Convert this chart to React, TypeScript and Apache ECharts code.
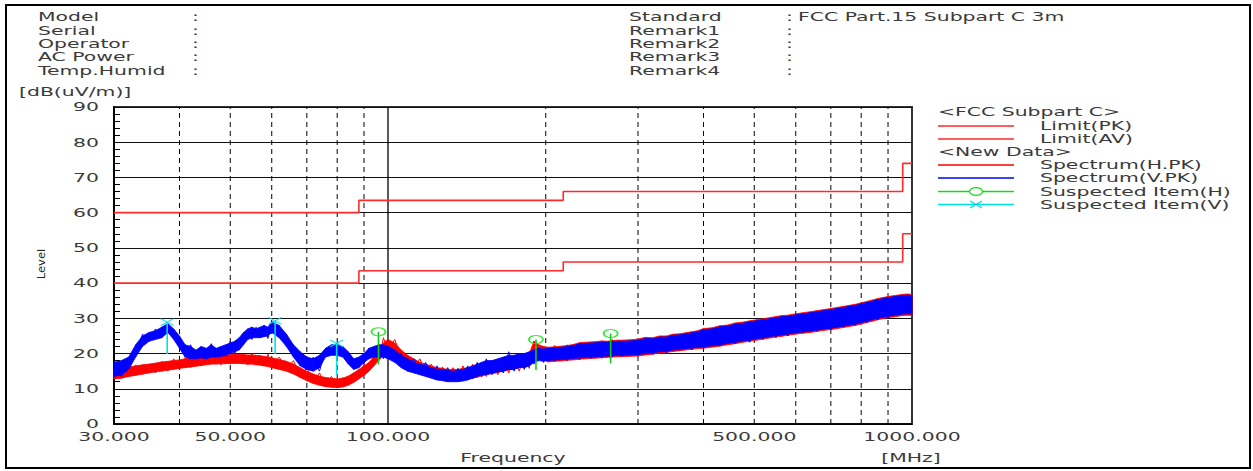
import React, { useEffect, useRef } from 'react';
import * as echarts from 'echarts';

// ---- data ----
const FREQ = [
  30, 31, 32, 33, 34, 35, 36, 37, 38, 39, 40, 41, 42, 43, 44, 45, 46, 47, 48, 49,
  50, 51, 52, 53, 54, 55, 56, 57, 58, 59, 60, 62, 64, 66, 68, 70, 72, 74, 76, 78,
  80, 82, 84, 86, 88, 90, 92, 94, 96, 98, 100, 103, 106, 109, 112, 115, 118, 121, 124, 127,
  130, 133, 136, 139, 142, 145, 148, 151, 154, 158, 162, 166, 170, 174, 178, 182, 186, 190, 194, 198,
  202, 208, 214, 220, 226, 232, 238, 244, 250, 256, 262, 268, 274, 280, 290, 300, 310, 320, 330, 340,
  350, 360, 370, 380, 390, 400, 415, 430, 445, 460, 475, 490, 505, 520, 535, 550, 565, 580, 600, 620,
  640, 660, 680, 700, 720, 740, 760, 780, 800, 820, 840, 860, 880, 900, 920, 940, 960, 980, 1000,
];

// peak spikes (zig-zag of highest / lowest readings)
const SPEC_H = [
  13.0, 16.0, 13.5, 16.8, 14.0, 17.0, 14.5, 17.8, 15.0, 18.5, 15.5, 18.8, 16.0, 19.5, 16.5, 19.0, 17.0, 20.0, 16.8, 19.5,
  17.0, 20.3, 17.2, 19.8, 16.8, 20.0, 17.0, 19.5, 16.5, 19.8, 16.5, 19.0, 15.5, 18.0, 13.5, 16.0, 12.0, 14.5, 11.2, 13.5,
  10.5, 13.2, 11.5, 14.5, 13.5, 17.0, 15.5, 19.5, 18.0, 24.5, 21.0, 24.0, 19.0, 19.0, 15.5, 18.5, 15.0, 17.0, 13.0, 16.2,
  12.5, 16.0, 12.8, 16.5, 13.0, 17.0, 13.2, 17.5, 13.5, 18.0, 14.0, 18.5, 14.5, 19.0, 15.0, 19.5, 15.8, 23.5, 19.5, 22.0,
  18.5, 22.3, 18.8, 22.5, 19.0, 22.8, 19.0, 23.2, 19.2, 22.8, 19.5, 24.0, 19.6, 23.2, 19.8, 23.8, 20.0, 24.0, 20.4, 24.5,
  21.0, 25.0, 21.2, 25.5, 21.6, 25.8, 22.3, 26.5, 22.8, 27.0, 23.3, 27.5, 24.0, 28.2, 24.6, 28.8, 25.0, 29.3, 25.6, 30.0,
  26.2, 30.6, 26.8, 31.2, 27.3, 31.8, 28.0, 32.5, 28.6, 33.2, 29.2, 34.0, 29.8, 34.8, 30.3, 35.5, 31.0, 36.0, 32.0,
];

const SPEC_V = [
  16.5, 13.5, 18.5, 19.5, 25.5, 23.5, 27.0, 24.5, 28.5, 25.0, 24.5, 19.5, 22.5, 18.5, 21.5, 18.8, 22.8, 19.0, 21.8, 19.2,
  23.5, 20.0, 24.0, 22.5, 27.0, 24.0, 27.5, 24.5, 27.8, 24.3, 29.0, 26.5, 25.5, 20.5, 20.0, 15.5, 19.0, 15.0, 21.0, 20.0,
  23.0, 20.0, 20.0, 16.0, 19.0, 17.0, 21.5, 19.0, 22.5, 18.5, 22.0, 18.5, 20.0, 15.0, 18.5, 14.5, 17.5, 13.5, 16.5, 12.5,
  16.0, 12.0, 15.8, 12.2, 16.5, 12.8, 17.5, 13.5, 18.5, 14.0, 18.0, 14.5, 20.5, 15.0, 19.5, 15.5, 20.0, 17.0, 21.5, 17.5,
  21.0, 17.8, 21.5, 18.0, 21.8, 18.2, 22.3, 18.6, 22.0, 18.8, 23.0, 19.0, 22.5, 19.2, 23.0, 19.5, 23.5, 19.8, 23.8, 20.2,
  24.5, 20.8, 25.0, 21.0, 25.2, 21.5, 26.0, 22.2, 26.5, 22.8, 27.0, 23.2, 27.8, 24.0, 28.5, 24.5, 29.0, 25.0, 29.5, 25.8,
  30.2, 26.3, 30.8, 26.8, 31.2, 27.5, 32.0, 28.0, 32.8, 28.8, 33.5, 29.5, 34.3, 30.0, 35.0, 30.8, 35.8, 31.2, 34.5,
];

// dense core band of each trace (upper / lower edge)
const H_UPPER = [
  15.5, 15.8, 16.2, 16.5, 16.8, 17.0, 17.3, 17.6, 17.8, 18.0, 18.2, 18.5, 18.8, 19.0, 19.2, 19.3, 19.5, 19.6, 19.6, 19.7,
  19.7, 19.8, 19.8, 19.7, 19.6, 19.6, 19.5, 19.4, 19.2, 19.0, 18.8, 18.3, 17.8, 17.0, 16.0, 15.0, 14.2, 13.6, 13.2, 13.0,
  12.8, 13.0, 13.6, 14.5, 15.5, 16.5, 17.5, 19.0, 21.0, 23.0, 24.0, 23.0, 21.0, 19.5, 18.5, 17.5, 17.0, 16.5, 16.0, 15.8,
  15.5, 15.5, 15.5, 15.8, 16.0, 16.3, 16.6, 17.0, 17.3, 17.6, 18.0, 18.3, 18.6, 19.0, 19.3, 19.6, 20.0, 23.5, 22.5, 22.0,
  21.8, 21.9, 22.1, 22.3, 22.6, 23.1, 23.2, 23.3, 23.4, 23.6, 23.5, 23.7, 23.8, 23.8, 23.9, 24.1, 24.6, 24.5, 25.0, 25.0,
  25.5, 25.6, 25.9, 26.2, 26.5, 27.1, 27.3, 27.9, 28.1, 28.7, 28.9, 29.3, 29.6, 29.9, 30.2, 30.5, 30.8, 30.9, 31.3, 31.6,
  31.9, 32.2, 32.5, 32.8, 33.1, 33.4, 33.7, 34.0, 34.4, 34.8, 35.2, 35.6, 35.9, 36.2, 36.4, 36.6, 36.8, 36.9, 36.8,
];
const H_LOWER = [
  12.8, 13.0, 13.5, 13.8, 14.2, 14.5, 14.8, 15.0, 15.3, 15.5, 15.8, 16.0, 16.2, 16.4, 16.6, 16.8, 17.0, 17.0, 17.1, 17.1,
  17.2, 17.2, 17.2, 17.1, 17.0, 17.0, 16.8, 16.7, 16.5, 16.3, 16.0, 15.5, 15.0, 14.2, 13.2, 12.3, 11.5, 11.0, 10.6, 10.4,
  10.3, 10.5, 11.0, 11.8, 12.8, 13.8, 15.0, 16.5, 18.0, 19.5, 20.5, 19.5, 17.5, 16.0, 15.0, 14.5, 14.0, 13.5, 13.0, 12.8,
  12.5, 12.5, 12.5, 12.6, 12.8, 13.0, 13.3, 13.6, 14.0, 14.3, 14.6, 15.0, 15.3, 15.6, 16.0, 16.3, 16.6, 18.5, 18.5, 18.5,
  17.6, 17.8, 17.9, 18.1, 18.2, 18.4, 18.5, 18.6, 18.7, 18.8, 18.9, 19.0, 19.1, 19.1, 19.2, 19.3, 19.6, 19.8, 20.1, 20.3,
  20.6, 20.8, 21.0, 21.2, 21.4, 21.5, 21.8, 22.1, 22.5, 22.8, 23.2, 23.5, 23.8, 24.1, 24.4, 24.7, 24.9, 25.2, 25.5, 25.8,
  26.0, 26.3, 26.6, 26.8, 27.1, 27.4, 27.7, 28.0, 28.4, 28.8, 29.2, 29.6, 29.9, 30.2, 30.4, 30.6, 30.8, 30.9, 30.8,
];
const V_UPPER = [
  17.5, 18.0, 19.0, 22.5, 25.0, 26.0, 26.5, 27.5, 28.5, 27.0, 25.0, 22.5, 22.0, 21.0, 22.0, 21.5, 22.5, 21.5, 22.0, 22.5,
  23.0, 23.5, 24.5, 26.0, 27.0, 27.5, 27.0, 27.5, 28.0, 27.5, 29.0, 28.0, 25.5, 22.5, 20.5, 19.0, 18.5, 19.5, 21.5, 22.5,
  22.5, 22.0, 20.5, 18.5, 19.0, 20.0, 21.5, 22.0, 22.5, 22.5, 22.0, 21.0, 19.5, 18.5, 17.5, 17.0, 16.5, 16.0, 15.5, 15.5,
  15.2, 15.0, 15.2, 15.5, 16.0, 16.5, 17.0, 17.5, 18.0, 18.0, 18.5, 19.0, 19.5, 19.5, 20.0, 20.0, 20.5, 21.0, 21.5, 21.3,
  21.5, 21.6, 21.8, 22.0, 22.3, 22.8, 22.9, 23.0, 23.1, 23.3, 23.2, 23.4, 23.5, 23.5, 23.6, 23.8, 24.3, 24.2, 24.7, 24.7,
  25.2, 25.3, 25.6, 25.9, 26.2, 26.8, 27.0, 27.6, 27.8, 28.4, 28.6, 29.0, 29.3, 29.6, 29.9, 30.2, 30.5, 30.6, 31.0, 31.3,
  31.6, 31.9, 32.2, 32.5, 32.8, 33.1, 33.4, 33.7, 34.1, 34.5, 34.9, 35.3, 35.6, 35.9, 36.1, 36.3, 36.5, 36.6, 36.5,
];
const V_LOWER = [
  13.5, 14.0, 15.5, 19.0, 22.0, 23.5, 24.0, 24.5, 26.0, 24.0, 21.5, 19.0, 18.5, 18.5, 18.8, 18.5, 19.0, 19.0, 19.2, 19.5,
  20.0, 20.5, 21.0, 22.5, 24.0, 24.5, 24.5, 24.5, 24.8, 25.0, 26.0, 24.5, 22.0, 19.0, 16.5, 15.5, 15.0, 16.0, 19.0, 19.5,
  19.5, 19.0, 17.0, 15.5, 16.0, 17.5, 18.5, 19.0, 19.0, 19.0, 18.5, 17.5, 16.0, 15.0, 14.5, 14.0, 13.5, 13.0, 12.5, 12.3,
  12.0, 12.0, 12.0, 12.2, 12.5, 13.0, 13.5, 14.0, 14.0, 14.5, 14.8, 15.0, 15.5, 15.5, 16.0, 16.0, 16.5, 17.5, 18.0, 17.8,
  18.0, 18.2, 18.3, 18.5, 18.6, 18.8, 18.9, 19.0, 19.1, 19.2, 19.3, 19.4, 19.5, 19.5, 19.6, 19.7, 20.0, 20.2, 20.5, 20.7,
  21.0, 21.2, 21.4, 21.6, 21.8, 21.9, 22.2, 22.5, 22.9, 23.2, 23.6, 23.9, 24.2, 24.5, 24.8, 25.1, 25.3, 25.6, 25.9, 26.2,
  26.4, 26.7, 27.0, 27.2, 27.5, 27.8, 28.1, 28.4, 28.8, 29.2, 29.6, 30.0, 30.3, 30.6, 30.8, 31.0, 31.2, 31.3, 31.2,
];

const LIMIT_F = [30, 88, 88, 216, 216, 960, 960, 1000];
const LIMIT_PK = [60, 60, 63.5, 63.5, 66, 66, 74, 74];
const LIMIT_AV = [40, 40, 43.5, 43.5, 46, 46, 54, 54];

const SUSPECT_H_F = [95.9, 191.6, 266];
const SUSPECT_H_TOP = [26.2, 24.0, 25.7];
const SUSPECT_H_BASE = [16.9, 15.3, 17.2];

const SUSPECT_V_F = [37.9, 60.9, 79.8];
const SUSPECT_V_TOP = [28.9, 29.3, 22.9];
const SUSPECT_V_BASE = [19.9, 19.9, 14.0];

const X_TICKS = [30, 50, 100, 500, 1000];
const X_TICK_LABELS = ['30.000', '50.000', '100.000', '500.000', '1000.000'];
const Y_TICKS = [0, 10, 20, 30, 40, 50, 60, 70, 80, 90];
const GRID_DASHED = [40, 50, 60, 70, 80, 90, 200, 300, 400, 500, 600, 700, 800, 900];
const GRID_SOLID = [100];

const HEADER_LEFT = ['Model', 'Serial', 'Operator', 'AC Power', 'Temp.Humid'];
const HEADER_RIGHT = ['Standard', 'Remark1', 'Remark2', 'Remark3', 'Remark4'];
const HEADER_RIGHT_VALUES = ['FCC Part.15 Subpart C 3m', '', '', '', ''];

const LEGEND_ITEMS = [
  { kind: 'title', text: '<FCC Subpart C>' },
  { kind: 'line', text: 'Limit(PK)', color: '#ff2a2a' },
  { kind: 'line', text: 'Limit(AV)', color: '#ff2a2a' },
  { kind: 'title', text: '<New Data>' },
  { kind: 'line', text: 'Spectrum(H.PK)', color: '#ff0000' },
  { kind: 'line', text: 'Spectrum(V.PK)', color: '#0000ff' },
  { kind: 'circle', text: 'Suspected Item(H)', color: '#11dd11' },
  { kind: 'cross', text: 'Suspected Item(V)', color: '#00e0e8' },
];

// ---- style ----
const FONT_FAMILY = '"DejaVu Sans", sans-serif';
const FS = 12;
const SX = 1.7;
const TXT = '#3a3a3a';
const RED = '#ff0000';
const BLUE = '#0000ff';

function txt(text: string, x: number, y: number, align = 'left', extra: any = {}) {
  return {
    type: 'text',
    x,
    y,
    scaleX: extra.scaleX ?? SX,
    rotation: extra.rotation ?? 0,
    z: 100,
    silent: true,
    style: {
      text,
      fill: extra.fill ?? TXT,
      fontSize: extra.fontSize ?? FS,
      fontFamily: FONT_FAMILY,
      textAlign: align,
      align,
      textVerticalAlign: 'middle',
      verticalAlign: 'middle',
    },
  };
}

// filled band between lower and upper edges, one quad per frequency step
function band(name: string, lower: number[], upper: number[], color: string, z: number) {
  const data: number[][] = [];
  for (let i = 0; i < FREQ.length - 1; i++) {
    data.push([FREQ[i], FREQ[i + 1], lower[i], upper[i], lower[i + 1], upper[i + 1]]);
  }
  return {
    name,
    type: 'custom',
    silent: true,
    z,
    data,
    encode: { x: [0, 1], y: [2, 3, 4, 5] },
    renderItem: (params: any, api: any) => {
      const a0 = api.coord([api.value(0), api.value(2)]);
      const a1 = api.coord([api.value(0), api.value(3)]);
      const b1 = api.coord([api.value(1), api.value(5)]);
      const b0 = api.coord([api.value(1), api.value(4)]);
      return {
        type: 'polygon',
        shape: { points: [a0, a1, b1, b0] },
        style: { fill: color, stroke: color, lineWidth: 0.8 },
      };
    },
  };
}

export default function App() {
  const ref = useRef<HTMLDivElement>(null);

  useEffect(() => {
    if (!ref.current) return;
    const chart = echarts.init(ref.current, null, { renderer: 'svg' });

    const graphics: any[] = [];
    graphics.push({
      type: 'rect',
      z: 100,
      silent: true,
      shape: { x: 6, y: 5, width: 1244, height: 463 },
      style: { fill: 'none', stroke: '#000', lineWidth: 2 },
    });
    const rowsY = [17, 30.5, 44, 57, 70.5];
    HEADER_LEFT.forEach((t, i) => {
      graphics.push(txt(t, 38, rowsY[i]));
      graphics.push(txt(':', 192, rowsY[i]));
    });
    HEADER_RIGHT.forEach((t, i) => {
      graphics.push(txt(t, 629, rowsY[i]));
      graphics.push(txt(':', 786, rowsY[i]));
      if (HEADER_RIGHT_VALUES[i]) graphics.push(txt(HEADER_RIGHT_VALUES[i], 798, rowsY[i]));
    });
    graphics.push(txt('[dB(uV/m)]', 19, 92));
    graphics.push(txt('Level', 42, 264, 'center', { fontSize: 10, scaleX: 1.15, rotation: Math.PI / 2, fill: '#222' }));
    graphics.push(txt('Frequency', 513, 458, 'center'));
    graphics.push(txt('[MHz]', 911, 458, 'center'));

    const legY = [112, 126, 139, 152, 165, 178, 191.5, 204.5];
    LEGEND_ITEMS.forEach((it: any, i) => {
      const y = legY[i];
      if (it.kind === 'title') {
        graphics.push(txt(it.text, 938, y));
        return;
      }
      graphics.push({
        type: 'line',
        z: 100,
        silent: true,
        shape: { x1: 938, y1: y, x2: 1014, y2: y },
        style: { stroke: it.color, lineWidth: 1.3 },
      });
      if (it.kind === 'circle') {
        graphics.push({
          type: 'ellipse',
          z: 101,
          silent: true,
          shape: { cx: 976, cy: y, rx: 6.5, ry: 3.8 },
          style: { fill: '#fff', stroke: it.color, lineWidth: 1.3 },
        });
      }
      if (it.kind === 'cross') {
        graphics.push({
          type: 'polyline',
          z: 101,
          silent: true,
          shape: { points: [[970, y - 3.5], [982, y + 3.5]] },
          style: { stroke: it.color, lineWidth: 1.3, fill: 'none' },
        });
        graphics.push({
          type: 'polyline',
          z: 101,
          silent: true,
          shape: { points: [[970, y + 3.5], [982, y - 3.5]] },
          style: { stroke: it.color, lineWidth: 1.3, fill: 'none' },
        });
      }
      graphics.push(txt(it.text, 1040, y));
    });

    const vGridData = [
      ...GRID_DASHED.map((f) => [f, 0, 1]),
      ...GRID_SOLID.map((f) => [f, 0, 0]),
    ];

    const option: any = {
      animation: false,
      backgroundColor: '#fff',
      grid: {
        left: 114,
        right: 1253 - 912,
        top: 107,
        bottom: 471 - 424,
        show: true,
        borderColor: '#333',
        borderWidth: 2,
        backgroundColor: 'transparent',
      },
      xAxis: {
        type: 'log',
        logBase: 10,
        min: 30,
        max: 1000,
        axisLine: { show: true, lineStyle: { color: '#000', width: 1.5 } },
        axisTick: { show: false },
        axisLabel: { show: false },
        splitLine: { show: false },
        minorTick: { show: false },
        minorSplitLine: { show: false },
      },
      yAxis: {
        type: 'value',
        min: 0,
        max: 90,
        interval: 10,
        axisLine: { show: true, lineStyle: { color: '#000', width: 2 } },
        axisTick: { show: true, inside: true, length: 6, lineStyle: { color: '#000', width: 1 } },
        minorTick: { show: true, splitNumber: 5, length: 6, lineStyle: { color: '#000', width: 1 } },
        axisLabel: { show: false },
        splitLine: { show: true, lineStyle: { color: '#111', width: 1.2 } },
      },
      graphic: graphics,
      series: [
        {
          name: 'vgrid',
          type: 'custom',
          silent: true,
          clip: false,
          z: 1,
          data: vGridData,
          encode: { x: 0, y: 1 },
          renderItem: (params: any, api: any) => {
            const f = api.value(0);
            const dashed = api.value(2) === 1;
            const p0 = api.coord([f, 0]);
            const p1 = api.coord([f, 90]);
            return {
              type: 'line',
              shape: { x1: p0[0], y1: p0[1], x2: p1[0], y2: p1[1] },
              style: {
                stroke: '#000',
                lineWidth: dashed ? 1 : 1.3,
                lineDash: dashed ? [5, 4] : null,
              },
            };
          },
        },
        {
          name: 'Limit(PK)',
          type: 'line',
          z: 2,
          silent: true,
          showSymbol: false,
          data: LIMIT_F.map((f, i) => [f, LIMIT_PK[i]]),
          lineStyle: { color: '#ff2a2a', width: 1.6 },
        },
        {
          name: 'Limit(AV)',
          type: 'line',
          z: 2,
          silent: true,
          showSymbol: false,
          data: LIMIT_F.map((f, i) => [f, LIMIT_AV[i]]),
          lineStyle: { color: '#ff2a2a', width: 1.6 },
        },
        band('H-band', H_LOWER, H_UPPER, RED, 3),
        {
          name: 'Spectrum(H.PK)',
          type: 'line',
          z: 3,
          silent: true,
          showSymbol: false,
          data: FREQ.map((f, i) => [f, SPEC_H[i]]),
          lineStyle: { color: RED, width: 1 },
        },
        band('V-band', V_LOWER, V_UPPER, BLUE, 4),
        {
          name: 'Spectrum(V.PK)',
          type: 'line',
          z: 4,
          silent: true,
          showSymbol: false,
          data: FREQ.map((f, i) => [f, SPEC_V[i]]),
          lineStyle: { color: BLUE, width: 1 },
        },
        {
          name: 'stemsH',
          type: 'custom',
          silent: true,
          z: 5,
          data: SUSPECT_H_F.map((f, i) => [f, SUSPECT_H_TOP[i], SUSPECT_H_BASE[i]]),
          encode: { x: 0, y: 1 },
          renderItem: (params: any, api: any) => {
            const p0 = api.coord([api.value(0), api.value(2)]);
            const p1 = api.coord([api.value(0), api.value(1)]);
            return {
              type: 'line',
              shape: { x1: p0[0], y1: p0[1], x2: p1[0], y2: p1[1] },
              style: { stroke: '#11cc11', lineWidth: 1.6 },
            };
          },
        },
        {
          name: 'stemsV',
          type: 'custom',
          silent: true,
          z: 5,
          data: SUSPECT_V_F.map((f, i) => [f, SUSPECT_V_TOP[i], SUSPECT_V_BASE[i]]),
          encode: { x: 0, y: 1 },
          renderItem: (params: any, api: any) => {
            const p0 = api.coord([api.value(0), api.value(2)]);
            const p1 = api.coord([api.value(0), api.value(1)]);
            return {
              type: 'line',
              shape: { x1: p0[0], y1: p0[1], x2: p1[0], y2: p1[1] },
              style: { stroke: '#00e0e8', lineWidth: 1.6 },
            };
          },
        },
        {
          name: 'Suspected Item(H)',
          type: 'scatter',
          silent: true,
          z: 6,
          symbol: 'circle',
          symbolSize: [14, 8],
          data: SUSPECT_H_F.map((f, i) => [f, SUSPECT_H_TOP[i]]),
          itemStyle: { color: 'rgba(255,255,255,0)', borderColor: '#11dd11', borderWidth: 1.4 },
        },
        {
          name: 'Suspected Item(V)',
          type: 'scatter',
          silent: true,
          z: 6,
          symbol: 'path://M0,0L12,7M0,7L12,0',
          symbolSize: [13, 7],
          data: SUSPECT_V_F.map((f, i) => [f, SUSPECT_V_TOP[i]]),
          itemStyle: { color: 'rgba(0,0,0,0)', borderColor: '#00e0e8', borderWidth: 1.4 },
        },
        {
          name: 'xLabels',
          type: 'custom',
          silent: true,
          clip: false,
          z: 10,
          data: X_TICKS.map((f) => [f, 0]),
          encode: { x: 0, y: 1 },
          renderItem: (params: any, api: any) => {
            const p = api.coord([api.value(0), api.value(1)]);
            return {
              type: 'text',
              x: p[0],
              y: p[1] + 13,
              scaleX: SX,
              style: {
                text: X_TICK_LABELS[params.dataIndex],
                fill: TXT,
                fontSize: FS,
                fontFamily: FONT_FAMILY,
                textAlign: 'center',
                align: 'center',
                textVerticalAlign: 'middle',
                verticalAlign: 'middle',
              },
            };
          },
        },
        {
          name: 'yLabels',
          type: 'custom',
          silent: true,
          clip: false,
          z: 10,
          data: Y_TICKS.map((v) => [30, v]),
          encode: { x: 0, y: 1 },
          renderItem: (params: any, api: any) => {
            const p = api.coord([api.value(0), api.value(1)]);
            return {
              type: 'text',
              x: p[0] - 15,
              y: p[1],
              scaleX: SX,
              style: {
                text: String(Y_TICKS[params.dataIndex]),
                fill: TXT,
                fontSize: FS,
                fontFamily: FONT_FAMILY,
                textAlign: 'right',
                align: 'right',
                textVerticalAlign: 'middle',
                verticalAlign: 'middle',
              },
            };
          },
        },
      ],
    };

    chart.setOption(option);
    return () => {
      chart.dispose();
    };
  }, []);

  return (
    <div
      ref={ref}
      style={{ position: 'fixed', left: 0, top: 0, width: 1253, height: 471, background: '#fff' }}
    />
  );
}
